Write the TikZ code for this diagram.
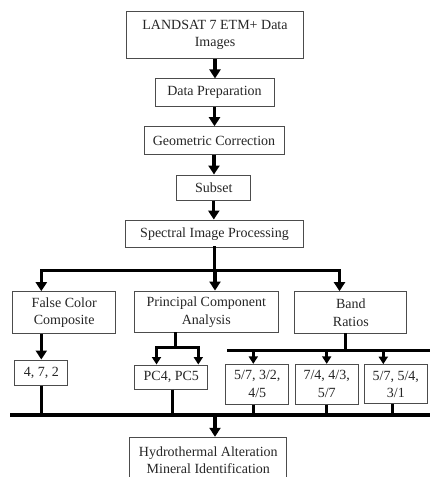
\documentclass[tikz,border=0pt]{standalone}
\usepackage{fontspec}
\setmainfont{Liberation Serif}
\usetikzlibrary{arrows.meta}
\begin{document}
\begin{tikzpicture}[x=1pt,y=-1pt,
  box/.style={draw=black!70,line width=1pt,fill=white,inner sep=0pt,align=center,
    font=\fontsize{14}{17.6}\selectfont,text=black!85},
  flow/.style={line width=3.2pt,-{Triangle[width=11pt,length=9pt]}},
  flowb/.style={line width=2.6pt,-{Triangle[width=9pt,length=7.5pt]}},
  bar/.style={line width=3.2pt,line cap=rect},
  barb/.style={line width=2.6pt,line cap=rect},
  stem/.style={line width=2.6pt}]
\useasboundingbox (0,0) rectangle (429,477);
% boxes
\node[box,minimum width=176.6pt,minimum height=46.6pt] (landsat) at (215,35) {LANDSAT 7 ETM+ Data\\Images};
\node[box,minimum width=119pt,minimum height=27.7pt] (prep) at (214.5,92.8) {Data Preparation};
\node[box,minimum width=140pt,minimum height=27.6pt] (geo) at (214,140.5) {Geometric Correction};
\node[box,minimum width=74.3pt,minimum height=25pt] (subset) at (213.8,187.5) {Subset};
\node[box,minimum width=177.6pt,minimum height=27.3pt] (spec) at (214.5,233.7) {Spectral Image Processing};
\node[box,minimum width=103pt,minimum height=42.3pt] (fcc) at (64.2,312.8) {False Color\\Composite};
\node[box,minimum width=144pt,minimum height=41.7pt] (pca) at (206.3,311.9) {Principal Component\\Analysis};
\node[box,minimum width=111.7pt,minimum height=42.3pt] (band) at (350.8,312.8) {Band\\Ratios};
\node[box,minimum width=52.7pt,minimum height=25pt] (r472) at (41.3,372.5) {4, 7, 2};
\node[box,minimum width=72.7pt,minimum height=24pt] (pc45) at (171.3,377) {PC4, PC5};
\node[box,minimum width=63.3pt,minimum height=39.7pt] (ra) at (257.3,384.2) {5/7, 3/2,\\4/5};
\node[box,minimum width=63.3pt,minimum height=39.7pt] (rb) at (326.7,384.2) {7/4, 4/3,\\5/7};
\node[box,minimum width=63pt,minimum height=39.3pt] (rc) at (395.8,384.3) {5/7, 5/4,\\3/1};
\node[box,minimum width=156.7pt,minimum height=46pt] (hydro) at (208.3,460.3) {Hydrothermal Alteration\\Mineral Identification};
% main chain
\draw[flow] (landsat.south) -- (landsat.south |- prep.north);
\draw[flow] (prep.south) -- (prep.south |- geo.north);
\draw[flow] (geo.south) -- (geo.south |- subset.north);
\draw[flow] (subset.south) -- (subset.south |- spec.north);
% branch into three methods
\coordinate (b1) at (41.3,270.7);
\coordinate (b2) at (215,270.7);
\coordinate (b3) at (339.5,270.7);
\draw[bar] (spec.south) -- (spec.south |- b2);
\draw[bar] (b1) -- (b3);
\draw[flow] (b1) -- (b1 |- fcc.north);
\draw[flow] (b2) -- (b2 |- pca.north);
\draw[flow] (b3) -- (b3 |- band.north);
% false colour composite
\draw[flow] (r472.center |- fcc.south) -- (r472.north);
% principal components
\coordinate (p0) at (175.7,347.3);
\coordinate (p1) at (156.5,347.3);
\coordinate (p2) at (198.3,347.3);
\draw[barb] (p0 |- pca.south) -- (p0);
\draw[barb] (p1) -- (p2);
\draw[flowb] (p1) -- (p1 |- pc45.north);
\draw[flowb] (p2) -- (p2 |- pc45.north);
% band ratios
\coordinate (q0) at (345.7,350.7);
\coordinate (ql) at (228.3,350.7);
\coordinate (qr) at (432,350.7);
\coordinate (q1) at (253.3,350.7);
\coordinate (q2) at (326.7,350.7);
\coordinate (q3) at (383.3,350.7);
\draw[barb] (q0 |- band.south) -- (q0);
\draw[bar] (ql) -- (qr);
\draw[flowb] (q1) -- (q1 |- ra.north);
\draw[flowb] (q2) -- (q2 |- rb.north);
\draw[flowb] (q3) -- (q3 |- rc.north);
% collector
\coordinate (cl) at (11.7,415);
\coordinate (cr) at (432,415);
\coordinate (cm) at (215,415);
\coordinate (s2) at (172.7,415);
\coordinate (s5) at (392.3,415);
\draw[bar] (cl) -- (cr);
\draw[stem] (r472.south) -- (r472.south |- cl);
\draw[stem] (s2 |- pc45.south) -- (s2);
\draw[stem] (q1 |- ra.south) -- (q1 |- cl);
\draw[stem] (rb.south) -- (rb.south |- cl);
\draw[stem] (s5 |- rc.south) -- (s5);
\draw[flow] (cm) -- (cm |- hydro.north);
\end{tikzpicture}
\end{document}
